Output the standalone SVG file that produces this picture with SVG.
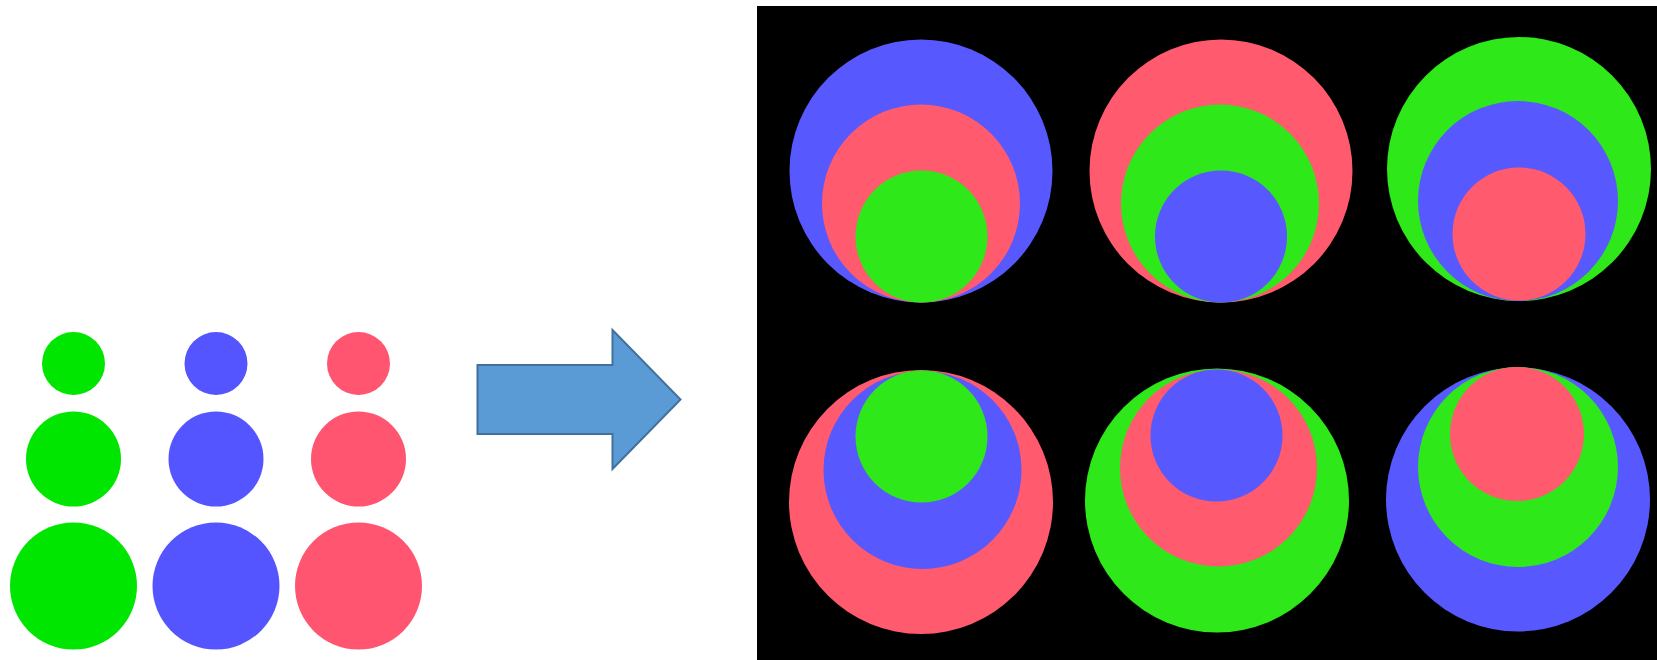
<svg xmlns="http://www.w3.org/2000/svg" width="1657" height="660" viewBox="0 0 1657 660">
  <style>
    .g1{fill:#00e600}
    .b1{fill:#5555ff}
    .r1{fill:#ff5570}
    .g2{fill:#2ee81a}
    .b2{fill:#5858ff}
    .r2{fill:#ff5a6e}
    .arrow{fill:#5b9bd5;stroke:#41719c;stroke-width:2}
  </style>
  <rect width="1657" height="660" fill="#ffffff"/>
  <g id="swatches">
    <circle class="g1" cx="73.5" cy="363.5" r="31.5"/>
    <circle class="b1" cx="216" cy="363.5" r="31.5"/>
    <circle class="r1" cx="358.5" cy="363.5" r="31.5"/>
    <circle class="g1" cx="73.5" cy="459" r="47.5"/>
    <circle class="b1" cx="216" cy="459" r="47.5"/>
    <circle class="r1" cx="358.5" cy="459" r="47.5"/>
    <circle class="g1" cx="73.5" cy="586" r="63.5"/>
    <circle class="b1" cx="216" cy="586" r="63.5"/>
    <circle class="r1" cx="358.5" cy="586" r="63.5"/>
  </g>
  <g id="arrow">
    <polygon class="arrow" points="477.5,365 612.5,365 612.5,330 680.5,399.5 612.5,469 612.5,434 477.5,434"/>
  </g>
  <g id="panel">
    <rect x="757" y="6" width="900" height="654" fill="#000000"/>
    <g id="top-left">
      <circle class="b2" cx="921" cy="171" r="131.5"/>
      <circle class="r2" cx="921" cy="203.5" r="99"/>
      <circle class="g2" cx="921.5" cy="236.5" r="66"/>
    </g>
    <g id="top-middle">
      <circle class="r2" cx="1221" cy="171" r="131.5"/>
      <circle class="g2" cx="1220" cy="203.5" r="99"/>
      <circle class="b2" cx="1221" cy="236.5" r="66"/>
    </g>
    <g id="top-right">
      <circle class="g2" cx="1519" cy="169" r="132"/>
      <circle class="b2" cx="1518" cy="201" r="100"/>
      <circle class="r2" cx="1519" cy="234" r="66.5"/>
    </g>
    <g id="bottom-left">
      <circle class="r2" cx="921" cy="502" r="132"/>
      <circle class="b2" cx="922.5" cy="470" r="99"/>
      <circle class="g2" cx="921.5" cy="436.5" r="66"/>
    </g>
    <g id="bottom-middle">
      <circle class="g2" cx="1217" cy="500.5" r="132"/>
      <circle class="r2" cx="1218.5" cy="468" r="98.5"/>
      <circle class="b2" cx="1216.5" cy="435.5" r="66"/>
    </g>
    <g id="bottom-right">
      <circle class="b2" cx="1518" cy="499.5" r="132"/>
      <circle class="g2" cx="1518" cy="467" r="100"/>
      <circle class="r2" cx="1517" cy="434" r="67"/>
    </g>
  </g>
</svg>
